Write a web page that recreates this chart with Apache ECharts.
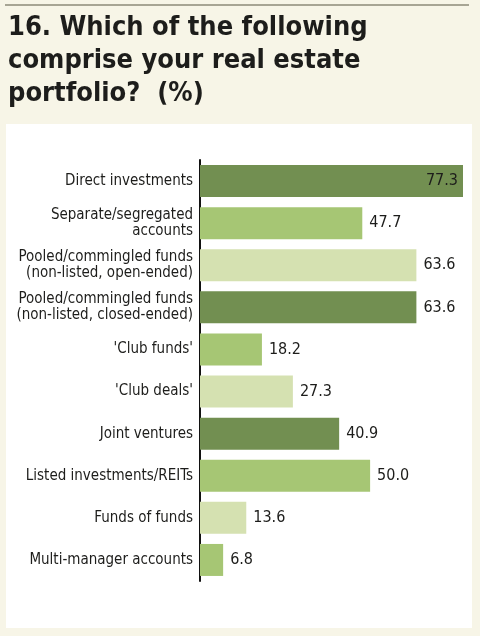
<!DOCTYPE html>
<html>
<head>
<meta charset="utf-8">
<script src="https://cdn.jsdelivr.net/npm/echarts@6/dist/echarts.min.js"></script>
<style>
html, body { margin: 0; padding: 0; background: #f7f5e7; }
#chart { width: 480px; height: 636px; }
</style>
</head>
<body>
<div id="chart"></div>
<script>
// data
var categories = [
    'Direct investments',
    'Separate/segregated\naccounts',
    'Pooled/commingled funds\n(non-listed, open-ended)',
    'Pooled/commingled funds\n(non-listed, closed-ended)',
    '\'Club funds\'',
    '\'Club deals\'',
    'Joint ventures',
    'Listed investments/REITs',
    'Funds of funds',
    'Multi-manager accounts'
];
var values = [77.3, 47.7, 63.6, 63.6, 18.2, 27.3, 40.9, 50.0, 13.6, 6.8];
// shade group of each bar: 0 dark, 1 mid, 2 light
var shades = [0, 1, 2, 0, 1, 2, 0, 1, 2, 1];

var palette = ['#728f51', '#a6c674', '#d5e1b1'];
var condensed = '"DejaVu Sans Condensed", "Liberation Sans Narrow", sans-serif';

var chartDom = document.getElementById('chart');
var myChart = echarts.init(chartDom);

var barData = values.map(function (v, i) {
    var item = {
        value: v,
        itemStyle: { color: palette[shades[i]] }
    };
    if (i === 0) {
        item.label = { position: 'insideRight', distance: 5 };
    }
    return item;
});

var option = {
    backgroundColor: '#f7f5e7',
    animation: false,
    title: {
        text: '16. Which of the following\ncomprise your real estate\nportfolio?  (%)',
        left: 3,
        top: 6,
        textStyle: {
            fontFamily: '"DejaVu Sans Condensed", sans-serif',
            fontWeight: 'bold',
            fontSize: 27,
            lineHeight: 33,
            color: '#1d1d1b'
        }
    },
    graphic: [
        {
            type: 'line',
            shape: { x1: 5, y1: 5, x2: 469, y2: 5 },
            style: { stroke: '#8c8a78', lineWidth: 1.5 }
        },
        {
            type: 'rect',
            z: -1,
            shape: { x: 6, y: 124, width: 466, height: 504 },
            style: { fill: '#ffffff' }
        }
    ],
    grid: {
        left: 200,
        right: 17,
        top: 160,
        bottom: 55
    },
    xAxis: {
        type: 'value',
        min: 0,
        max: 77.3,
        show: false
    },
    yAxis: {
        type: 'category',
        inverse: true,
        data: categories,
        axisLine: { lineStyle: { color: '#111', width: 2 } },
        axisTick: { show: false },
        axisLabel: {
            margin: 7,
            fontFamily: condensed,
            fontSize: 15,
            lineHeight: 16,
            color: '#1d1d1b'
        }
    },
    series: [{
        type: 'bar',
        barWidth: '76%',
        data: barData,
        label: {
            show: true,
            position: 'right',
            distance: 7,
            fontFamily: condensed,
            fontSize: 16,
            color: '#1d1d1b',
            formatter: function (p) { return p.value.toFixed(1); }
        }
    }]
};

option && myChart.setOption(option);
</script>
</body>
</html>
